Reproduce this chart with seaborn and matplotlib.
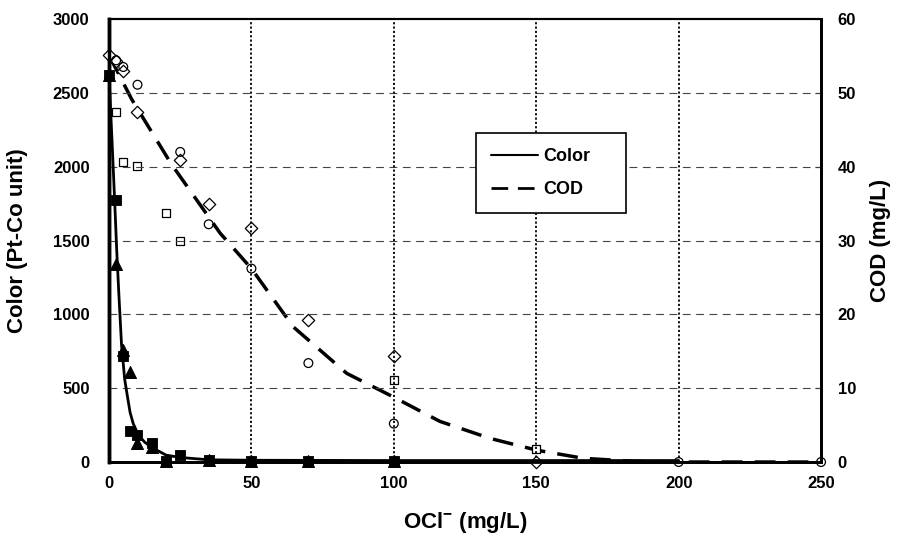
import matplotlib
matplotlib.use("Agg")
import matplotlib.pyplot as plt
import seaborn as sns
from matplotlib.lines import Line2D

# ---- data ----
# Color (Pt-Co unit), filled markers
sq_x = [0, 2.5, 5, 7.5, 10, 15, 20, 25, 35, 50, 70, 100]
sq_y = [2620, 1775, 720, 210, 180, 130, 10, 50, 15, 10, 10, 10]
tri_x = [0, 2.5, 5, 7.5, 10, 15, 20, 35, 50, 70, 100]
tri_y = [2620, 1340, 760, 610, 130, 100, 5, 15, 10, 10, 10]
# Color fitted curve
color_fit_x = [0, 1, 2, 2.7, 3.5, 4.4, 5.5, 6.5, 7.4, 8.5, 10.3, 12.5, 15, 20, 25, 35, 50, 100, 150, 200]
color_fit_y = [2620, 2200, 1760, 1435, 1120, 792, 560, 440, 336, 260, 183, 135, 99, 47, 31, 15, 12, 10, 10, 10]

# COD (mg/L), open markers
dia_x = [0, 2.5, 5, 10, 25, 35, 50, 70, 100, 150]
dia_y = [55.1, 54.3, 52.9, 47.4, 40.9, 35.0, 31.7, 19.3, 14.4, 0]
cir_x = [2.5, 5, 10, 25, 35, 50, 70, 100, 200, 250]
cir_y = [54.4, 53.5, 51.1, 42.0, 32.2, 26.2, 13.4, 5.2, 0, 0]
osq_x = [2.5, 5, 10, 20, 25, 100, 150]
osq_y = [47.4, 40.6, 40.1, 33.7, 29.9, 11.1, 1.7]
# COD fitted curve
cod_fit_x = [0, 8, 21.8, 39, 50, 64.7, 83.5, 99.9, 116.2, 133.8, 150.2, 166.6, 184, 200, 250]
cod_fit_y = [55.1, 49.1, 40.4, 31.0, 26.2, 18.3, 12.0, 8.8, 5.5, 3.2, 1.6, 0.5, 0.1, 0, 0]

x_ticks = [0, 50, 100, 150, 200, 250]
y_left_ticks = [0, 500, 1000, 1500, 2000, 2500, 3000]
y_right_ticks = [0, 10, 20, 30, 40, 50, 60]

sns.set_style("white")
plt.rcParams['font.family'] = ['Liberation Sans', 'DejaVu Sans']
plt.rcParams['font.weight'] = 'bold'
plt.rcParams['text.color'] = 'black'
plt.rcParams['axes.labelcolor'] = 'black'
plt.rcParams['xtick.color'] = 'black'
plt.rcParams['ytick.color'] = 'black'
plt.rcParams['mathtext.fontset'] = 'custom'
plt.rcParams['mathtext.rm'] = 'Liberation Sans:bold'
plt.rcParams['mathtext.it'] = 'Liberation Sans:bold'
plt.rcParams['mathtext.bf'] = 'Liberation Sans:bold'

fig = plt.figure(figsize=(8.98, 5.4), dpi=100)
ax = fig.add_axes([0.1214, 0.1444, 0.7929, 0.8204])
ax2 = ax.twinx()

# grids
for yv in y_left_ticks[1:-1]:
    ax.axhline(yv, color='#444444', lw=0.8, ls=(0, (7, 5)), zorder=1)
for xv in x_ticks[1:-1]:
    ax.axvline(xv, color='black', lw=1.3, ls=(0, (1.2, 1.2)), zorder=1)

# Color curve and markers
sns.lineplot(x=color_fit_x, y=color_fit_y, ax=ax, color='black', lw=2.0,
             sort=False, estimator=None, zorder=4, legend=False)
sns.scatterplot(x=sq_x, y=sq_y, ax=ax, marker='s', s=60, color='black',
                edgecolor='black', zorder=5, legend=False, clip_on=False)
sns.scatterplot(x=tri_x, y=tri_y, ax=ax, marker='^', s=75, color='black',
                edgecolor='black', zorder=5, legend=False, clip_on=False)

# COD curve and markers
sns.lineplot(x=cod_fit_x, y=cod_fit_y, ax=ax2, color='black', lw=2.5,
             ls=(0, (6, 3.5)), sort=False, estimator=None, zorder=4, legend=False)
sns.scatterplot(x=dia_x, y=dia_y, ax=ax2, marker='D', s=40, facecolor='white',
                edgecolor='black', linewidth=0.9, zorder=5, legend=False, clip_on=False)
sns.scatterplot(x=cir_x, y=cir_y, ax=ax2, marker='o', s=40, facecolor='none',
                edgecolor='black', linewidth=0.9, zorder=5, legend=False, clip_on=False)
sns.scatterplot(x=osq_x, y=osq_y, ax=ax2, marker='s', s=40, facecolor='white',
                edgecolor='black', linewidth=0.9, zorder=5, legend=False, clip_on=False)

ax.set_xlim(0, 250)
ax.set_ylim(0, 3000)
ax2.set_ylim(0, 60)
ax.set_xticks(x_ticks)
ax.set_yticks(y_left_ticks)
ax2.set_yticks(y_right_ticks)
ax.set_xticklabels([str(v) for v in x_ticks], fontsize=12, fontweight='bold')
ax.set_yticklabels([str(v) for v in y_left_ticks], fontsize=12, fontweight='bold')
ax2.set_yticklabels([str(v) for v in y_right_ticks], fontsize=12, fontweight='bold')
ax.tick_params(axis='x', length=0, pad=10)
ax.tick_params(axis='y', length=0, pad=14)
ax2.tick_params(axis='y', length=4, direction='in', pad=12)

ax.set_xlabel(r'OCl$^{-}$ (mg/L)', fontsize=16, fontweight='bold', labelpad=14)
ax.set_ylabel('Color (Pt-Co unit)', fontsize=16, fontweight='bold', labelpad=18)
ax2.set_ylabel('COD (mg/L)', fontsize=16, fontweight='bold', labelpad=10)

for a in (ax, ax2):
    a.spines['left'].set_linewidth(2.5)
    a.spines['bottom'].set_linewidth(2.0)
    a.spines['right'].set_linewidth(2.0)
    a.spines['top'].set_linewidth(1.5)
    for s in a.spines.values():
        s.set_color('black')
ax.set_zorder(ax2.get_zorder() + 1)
ax.patch.set_visible(False)

# legend
handles = [Line2D([], [], color='black', lw=1.5),
           Line2D([], [], color='black', lw=2.0, ls=(0, (6, 3.5)))]
leg = ax.legend(handles, ['Color', 'COD'], loc='lower left',
                bbox_to_anchor=(0.516, 0.563, 0.21, 0.203), mode='expand',
                frameon=True, fancybox=False, edgecolor='black', framealpha=1,
                prop={'size': 13, 'weight': 'bold'}, handlelength=2.6,
                labelspacing=0.9, borderpad=0.8, handletextpad=0.3,
                borderaxespad=0)
leg.get_frame().set_linewidth(1.2)
leg.set_zorder(10)

fig.savefig('out.png', dpi=100)
